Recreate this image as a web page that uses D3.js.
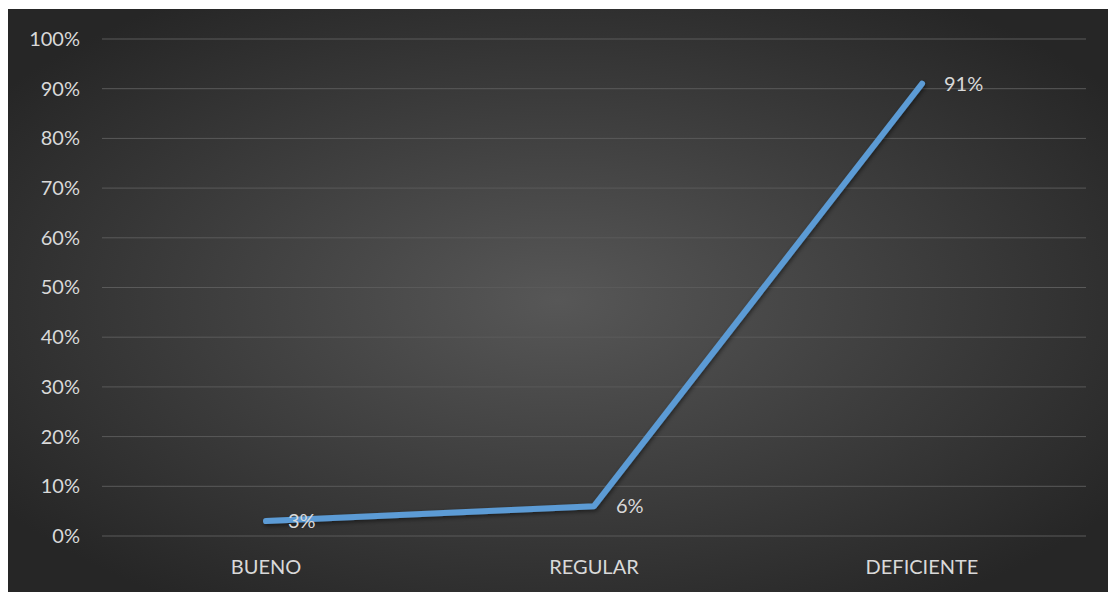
<!DOCTYPE html>
<meta charset="utf-8">
<style>
  body, html { margin:0; padding:0; background:#fff; }
  text { font-family: Lato, "Open Sans", sans-serif; }
</style>
<body>
<svg width="1108" height="592"></svg>
<script src="https://d3js.org/d3.v7.min.js"></script>
<script>
var categories = ["BUENO", "REGULAR", "DEFICIENTE"];
var values = [0.03, 0.06, 0.91];
var labels = ["3%", "6%", "91%"];
var yTicks = [0, 0.1, 0.2, 0.3, 0.4, 0.5, 0.6, 0.7, 0.8, 0.9, 1.0];

var svg = d3.select("svg");
var defs = svg.append("defs");

var grad = defs.append("radialGradient")
    .attr("id", "bg")
    .attr("cx", "50%").attr("cy", "50%").attr("r", "62%");
grad.append("stop").attr("offset", "0%").attr("stop-color", "#575757");
grad.append("stop").attr("offset", "100%").attr("stop-color", "#262626");

var shadow = defs.append("filter").attr("id", "shadow")
    .attr("x", "-10%").attr("y", "-10%").attr("width", "120%").attr("height", "120%");
shadow.append("feDropShadow")
    .attr("dx", 1).attr("dy", 2).attr("stdDeviation", 2)
    .attr("flood-color", "#000").attr("flood-opacity", 0.5);

svg.append("rect")
    .attr("x", 8).attr("y", 9)
    .attr("width", 1100).attr("height", 583)
    .attr("fill", "url(#bg)");

var x = d3.scaleBand()
    .domain(categories)
    .range([102, 1086]);

var y = d3.scaleLinear()
    .domain([0, 1])
    .range([536, 39]);

// gridlines
svg.append("g")
    .selectAll("line")
    .data(yTicks)
    .enter().append("line")
    .attr("x1", 102).attr("x2", 1086)
    .attr("y1", function(d) { return y(d); })
    .attr("y2", function(d) { return y(d); })
    .attr("stroke", "#5a5a5a")
    .attr("stroke-width", 1);

// y axis
var yAxis = svg.append("g")
    .attr("transform", "translate(80,0)")
    .call(d3.axisLeft(y).tickValues(yTicks).tickSize(0).tickPadding(0)
        .tickFormat(d3.format(".0%")));
yAxis.select(".domain").remove();
yAxis.selectAll("text")
    .attr("fill", "#d9d9d9")
    .style("font-size", "20px");

// x axis
var xAxis = svg.append("g")
    .attr("transform", "translate(0,536)")
    .call(d3.axisBottom(x).tickSize(0).tickPadding(24));
xAxis.select(".domain").remove();
xAxis.selectAll("text")
    .attr("fill", "#d9d9d9")
    .style("font-size", "20px");

// line
var line = d3.line()
    .x(function(d, i) { return x(categories[i]) + x.bandwidth() / 2; })
    .y(function(d) { return y(d); });

svg.append("path")
    .datum(values)
    .attr("d", line)
    .attr("fill", "none")
    .attr("stroke", "#5b9bd5")
    .attr("stroke-width", 6)
    .attr("stroke-linecap", "round")
    .attr("stroke-linejoin", "round")
    .attr("filter", "url(#shadow)");

// data labels
svg.append("g")
    .selectAll("text")
    .data(values)
    .enter().append("text")
    .attr("x", function(d, i) { return x(categories[i]) + x.bandwidth() / 2 + 22; })
    .attr("y", function(d) { return y(d); })
    .attr("dy", "0.35em")
    .attr("fill", "#d9d9d9")
    .style("font-size", "20px")
    .text(function(d, i) { return labels[i]; });
</script>
</body>
